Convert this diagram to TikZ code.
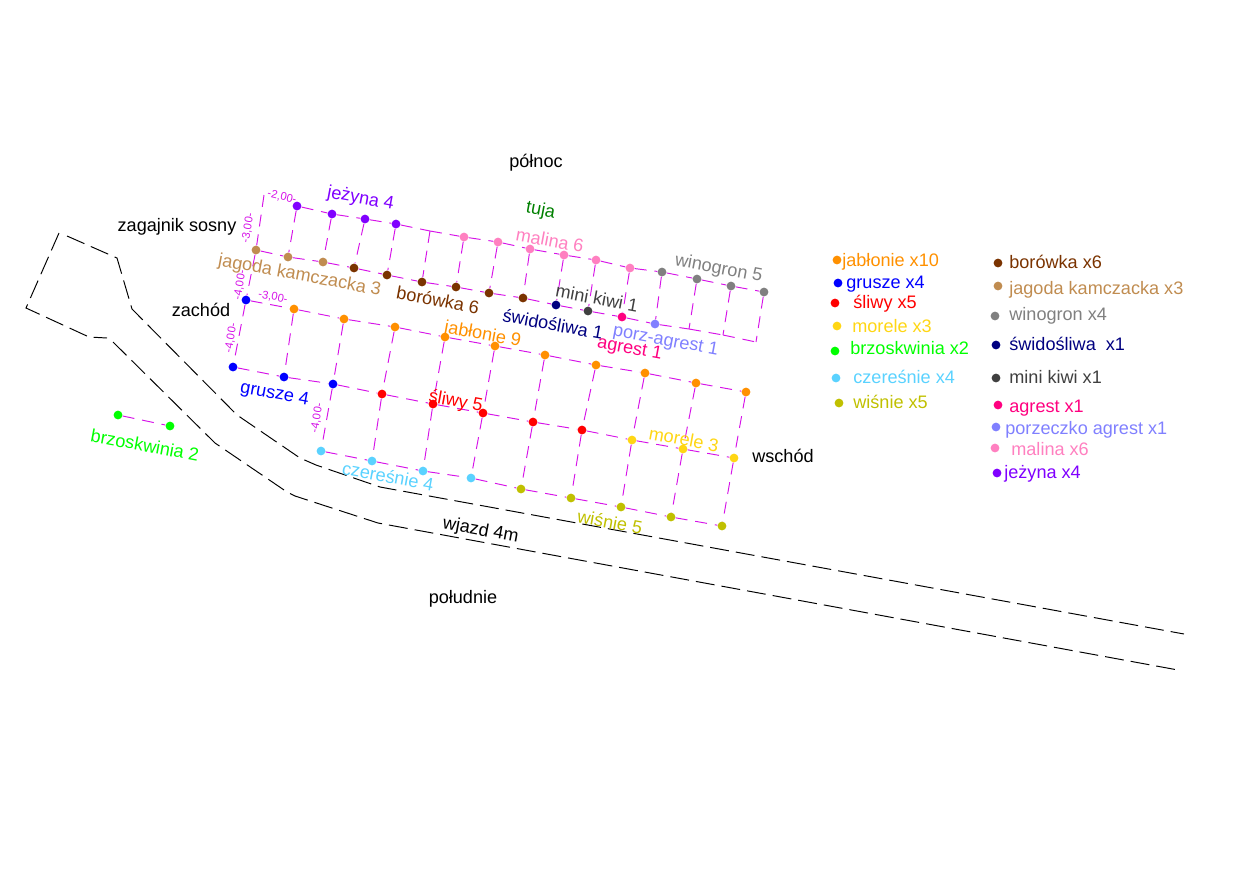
\documentclass[tikz,border=0pt]{standalone}
\usepackage{fontspec}
\setmainfont{Liberation Sans}
\usepackage{xcolor}
\definecolor{jablon}{RGB}{255,144,0}
\definecolor{grusza}{RGB}{0,0,255}
\definecolor{sliwa}{RGB}{255,0,0}
\definecolor{morela}{RGB}{255,214,20}
\definecolor{brzoskwinia}{RGB}{0,255,0}
\definecolor{czeresnia}{RGB}{90,210,255}
\definecolor{wisnia}{RGB}{192,192,0}
\definecolor{borowka}{RGB}{122,51,0}
\definecolor{jagoda}{RGB}{192,140,80}
\definecolor{winogron}{RGB}{128,128,128}
\definecolor{swidosliwa}{RGB}{0,0,128}
\definecolor{kiwi}{RGB}{64,64,64}
\definecolor{agrest}{RGB}{255,0,128}
\definecolor{porzagrest}{RGB}{128,128,255}
\definecolor{malina}{RGB}{255,128,192}
\definecolor{jezyna}{RGB}{128,0,255}
\definecolor{tuja}{RGB}{0,128,0}
\definecolor{siatkakol}{RGB}{214,20,232}

\begin{document}
\begin{tikzpicture}[x=0.02cm,y=-0.02cm,
    kropka/.style={circle,inner sep=0pt,minimum size=5pt},
    opis/.style={inner sep=0pt,font=\fontsize{10.3}{12}\selectfont,text height=8.6pt,text depth=1pt},
    skos/.style={opis,rotate=-10.5},
    legenda/.style={opis,anchor=west},
    wymiar/.style={inner sep=0pt,text=siatkakol,font=\fontsize{6.4}{7}\selectfont},
    siatka/.style={siatkakol,line width=0.55pt,dash pattern=on 6.8pt off 4.5pt},
    droga/.style={black,line width=0.55pt,dash pattern=on 10.8pt off 4pt}]
    \useasboundingbox (0,0) rectangle (1259,893);

    % Punkty rzad a
    \coordinate (a0) at (264,195);
    \foreach \x/\y/\c [count=\i from 1] in {297/206/jezyna,332/214/jezyna,365/219/jezyna,396/224/jezyna}
        \node[kropka,fill=\c] (a\i) at (\x,\y) {};
    \coordinate (a5) at (430,231);
    \foreach \x/\y/\c [count=\i from 6] in {464/237/malina,498/242/malina,530/249/malina,564/255/malina,596/260/malina,630/268/malina,662/272/winogron,697/279/winogron,731/286/winogron,764/292/winogron}
        \node[kropka,fill=\c] (a\i) at (\x,\y) {};

    % Punkty rzad b
    \foreach \x/\y/\c [count=\i from 0] in {256/250/jagoda,288/257/jagoda,323/262/jagoda,354/268/borowka,387/275/borowka,422/282/borowka,456/287/borowka,489/293/borowka,523/298/borowka,556/305/swidosliwa,588/311/kiwi,622/317/agrest,655/324/porzagrest}
        \node[kropka,fill=\c] (b\i) at (\x,\y) {};
    \coordinate (b13) at (689,329);
    \coordinate (b14) at (723,335);
    \coordinate (b15) at (756,342);

    % Punkty rzad c
    \foreach \x/\y/\c [count=\i from 0] in {246/300/grusza,294/309/jablon,344/319/jablon,395/327/jablon,445/337/jablon,495/346/jablon,545/355/jablon,596/365/jablon,645/373/jablon,696/383/jablon,746/392/jablon}
        \node[kropka,fill=\c] (c\i) at (\x,\y) {};

    % Punkty rzad d
    \foreach \x/\y/\c [count=\i from 0] in {233/367/grusza,284/377/grusza,333/384/grusza,382/394/sliwa,433/404/sliwa,483/413/sliwa,533/422/sliwa,582/430/sliwa,632/440/morela,683/449/morela,734/458/morela}
        \node[kropka,fill=\c] (d\i) at (\x,\y) {};

    % Punkty rzad e
    \foreach \x/\y/\c [count=\i from 2] in {321/451/czeresnia,372/461/czeresnia,423/471/czeresnia,471/478/czeresnia,521/489/wisnia,571/498/wisnia,621/507/wisnia,671/517/wisnia,722/526/wisnia}
        \node[kropka,fill=\c] (e\i) at (\x,\y) {};

    % Brzoskwinie
    \node[kropka,fill=brzoskwinia] (f1) at (118,415) {};
    \node[kropka,fill=brzoskwinia] (f2) at (170,426) {};
    \draw[siatka] (f1) -- (f2);

    % Siatka
    \foreach \i [evaluate=\i as \k using int(\i+1)] in {1,...,14}
        \draw[siatka] (a\i) -- (a\k);
    \foreach \i [evaluate=\i as \k using int(\i+1)] in {0,...,14}
        \draw[siatka] (b\i) -- (b\k);
    \foreach \i [evaluate=\i as \k using int(\i+1)] in {0,...,9} {
        \draw[siatka] (c\i) -- (c\k);
        \draw[siatka] (d\i) -- (d\k);
    }
    \foreach \i [evaluate=\i as \k using int(\i+1)] in {2,...,9}
        \draw[siatka] (e\i) -- (e\k);
    \foreach \i in {0,...,15}
        \draw[siatka] (a\i) -- (b\i);
    \foreach \i in {0,...,10}
        \draw[siatka] (c\i) -- (d\i);
    \foreach \i in {2,...,10}
        \draw[siatka] (d\i) -- (e\i);
    \draw[siatka] (b0) -- (c0);

    % Wymiary
    \node[wymiar,rotate=-13] (w1) at (282,197) {-2,00-};
    \node[wymiar,rotate=80] (w2) at (248,228) {-3,00-};
    \node[wymiar,rotate=80] (w3) at (240,285) {-4,00-};
    \node[wymiar,rotate=-10.5] (w4) at (273,297) {-3,00-};
    \node[wymiar,rotate=80] (w5) at (231,338) {-4,00-};
    \node[wymiar,rotate=80] (w6) at (317,418) {-4,00-};

    % Droga
    \coordinate (r1) at (59,233);
    \coordinate (r2) at (26,308);
    \coordinate (r3) at (89,337);
    \coordinate (r4) at (107,338);
    \coordinate (r4b) at (113,342);
    \coordinate (r5) at (215,443);
    \coordinate (r6) at (287,492);
    \coordinate (r7) at (295,496);
    \coordinate (r8) at (378,523);
    \coordinate (r9) at (1178,670);
    \coordinate (s0) at (67,236);
    \coordinate (s1) at (117,258);
    \coordinate (s2) at (132,309);
    \coordinate (s3) at (237,415);
    \coordinate (s4) at (300,458);
    \coordinate (s5) at (316,465);
    \coordinate (s6) at (380,487);
    \coordinate (s7) at (1184,634);
    \draw[droga] (r1) -- (r2) -- (r3) -- (r4);
    \draw[droga] (s0) -- (s1) -- (s2) -- (s3) -- (s4) -- (s5) -- (s6) -- (s7);
    \draw[droga] (r4b) -- (r5) -- (r6) -- (r7) -- (r8) -- (r9);

    % Opisy stron
    \node[opis] (polnoc) at (536,161) {północ};
    \node[opis] (sosna) at (177,225) {zagajnik sosny};
    \node[opis] (zachod) at (201,310) {zachód};
    \node[opis] (wschod) at (783,456) {wschód};
    \node[opis] (poludnie) at (463,597) {południe};
    \node[skos] (wjazd) at (481,529) {wjazd 4m};

    % Opisy rzedow
    \node[skos,text=jezyna] (t1) at (361,197) {jeżyna 4};
    \node[skos,text=tuja] (t2) at (541,209) {tuja};
    \node[skos,text=malina] (t3) at (550,240) {malina 6};
    \node[skos,text=winogron] (t4) at (719,267) {winogron 5};
    \node[skos,text=kiwi] (t5) at (597,298) {mini kiwi 1};
    \node[skos,text=jagoda] (t6) at (300,274) {jagoda kamczacka 3};
    \node[skos,text=borowka] (t7) at (438,300) {borówka 6};
    \node[skos,text=swidosliwa] (t8) at (553,324) {świdośliwa 1};
    \node[skos,text=porzagrest] (t9) at (666,339) {porz-agrest 1};
    \node[skos,text=agrest] (t10) at (630,347) {agrest 1};
    \node[skos,text=jablon] (t11) at (483,333) {jabłonie 9};
    \node[skos,text=grusza] (t12) at (275,392) {grusze 4};
    \node[skos,text=sliwa] (t13) at (456,400) {śliwy 5};
    \node[skos,text=morela] (t14) at (684,439) {morele 3};
    \node[skos,text=czeresnia] (t15) at (388,476) {czereśnie 4};
    \node[skos,text=wisnia] (t16) at (610,522) {wiśnie 5};
    \node[skos,text=brzoskwinia] (t17) at (145,445) {brzoskwinia 2};

    % Legenda
    \foreach \kx/\ky/\tx/\ty/\c/\t [count=\i] in {
        837/260/842/260/jablon/jabłonie x10,
        838/283/846/282/grusza/grusze x4,
        835/303/853/302/sliwa/śliwy x5,
        837/326/852/326/morela/morele x3,
        835/351/850/348/brzoskwinia/brzoskwinia x2,
        836/378/853/377/czeresnia/czereśnie x4,
        839/403/853/402/wisnia/wiśnie x5,
        998/263/1009/262/borowka/borówka x6,
        998/286/1009/288/jagoda/jagoda kamczacka x3,
        995/316/1009/314/winogron/winogron x4,
        996/345/1009/344/swidosliwa/świdośliwa\ \ x1,
        996/378/1009/377/kiwi/mini kiwi x1,
        998/405/1009/406/agrest/agrest x1,
        996/427/1005/428/porzagrest/porzeczko agrest x1,
        995/448/1011/449/malina/malina x6,
        997/473/1004/472/jezyna/jeżyna x4} {
        \node[kropka,fill=\c] (k\i) at (\kx,\ky) {};
        \node[legenda,text=\c] (l\i) at (\tx,\ty) {\t};
    }
\end{tikzpicture}
\end{document}
